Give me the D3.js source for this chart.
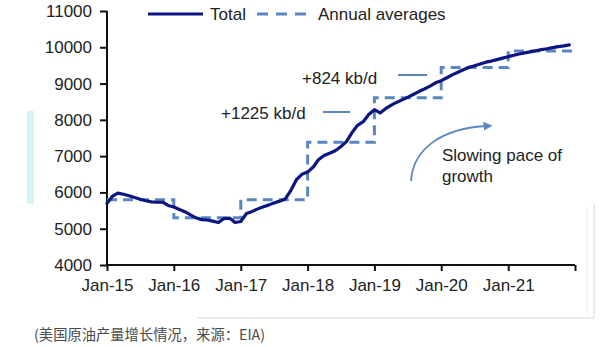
<!DOCTYPE html>
<html><head><meta charset="utf-8">
<script src="https://cdn.jsdelivr.net/npm/d3@7"></script>
<style>
html,body{margin:0;padding:0;background:#fff;}
svg{display:block;font-family:"Liberation Sans",Arial,Helvetica,sans-serif;}
</style></head>
<body><svg id="c" width="600" height="347"></svg>
<script>
// Monthly total production, Jan-2015 .. Dec-2021 (kb/d)
const totalValues = [
  5700,5900,5980,5950,5910,5860,5810,5770,5740,5730,5730,5640,
  5600,5530,5470,5380,5300,5250,5240,5210,5170,5280,5290,5170,
  5200,5420,5470,5540,5600,5650,5710,5760,5820,6050,6350,6500,
  6560,6700,6900,7020,7080,7150,7260,7400,7650,7850,7950,8150,
  8280,8190,8300,8400,8480,8550,8620,8700,8780,8850,8930,9020,
  9080,9160,9240,9310,9380,9450,9490,9540,9590,9620,9660,9700,
  9740,9780,9815,9845,9875,9905,9935,9960,9990,10020,10040,10065
];
const years = [2015,2016,2017,2018,2019,2020,2021];
const annualAverages = [5800,5300,5800,7380,8610,9440,9900];
const yTicks = [4000,5000,6000,7000,8000,9000,10000,11000];
const xTickLabels = ["Jan-15","Jan-16","Jan-17","Jan-18","Jan-19","Jan-20","Jan-21",""];
const legendLabels = ["Total","Annual averages"];
const annotations = [
  {text:"+824 kb/d", value:9440, year:2020},
  {text:"+1225 kb/d", value:8610, year:2019}
];

const svg = d3.select("#c");
const x = d3.scaleTime().domain([new Date(2015,0,1), new Date(2022,0,1)]).range([107,575]);
const y = d3.scaleLinear().domain([4000,11000]).range([265,11]);

const navy = "#0d1580";
const blue = "#5b87c0";

// decorative artifacts from the screenshot
svg.append("rect").attr("x",27).attr("y",111).attr("width",7).attr("height",93).attr("fill","#d3f3f7");
svg.append("path").attr("d","M197,318H594V203").attr("fill","none").attr("stroke","#e6e6e6").attr("stroke-width",1.5);
svg.append("path").attr("d","M587,207V314").attr("fill","none").attr("stroke","#efefef").attr("stroke-width",1.5);

// axes
const yAxis = d3.axisLeft(y).tickValues(yTicks).tickSize(7).tickPadding(8).tickFormat(d3.format("d"));
const gy = svg.append("g").attr("transform","translate(107,0)").call(yAxis);
const xTickDates = d3.range(2015,2023).map(yr=>new Date(yr,0,1));
const xAxis = d3.axisBottom(x).tickValues(xTickDates).tickSize(6).tickPadding(8)
  .tickFormat((d,i)=>xTickLabels[i]);
const gx = svg.append("g").attr("transform","translate(0,265)").call(xAxis);
[gx,gy].forEach(g=>{
  g.select(".domain").attr("stroke","#111").attr("stroke-width",2);
  g.selectAll(".tick line").attr("stroke","#111").attr("stroke-width",2);
  g.selectAll(".tick text").attr("font-size",17).attr("fill","#222")
    .attr("font-family","'Liberation Sans',Arial,sans-serif");
});
gy.select(".domain").attr("d","M0,11V265");
gx.select(".domain").attr("d","M107,0H575");

// annual averages step line
const stepData = years.map((yr,i)=>({d:new Date(yr,0,1), v:annualAverages[i]}));
stepData.push({d:new Date(2021,11,20), v:annualAverages[annualAverages.length-1]});
const stepLine = d3.line().x(p=>x(p.d)).y(p=>y(p.v)).curve(d3.curveStepAfter);
svg.append("path").datum(stepData).attr("d",stepLine)
  .attr("fill","none").attr("stroke",blue).attr("stroke-width",3).attr("stroke-dasharray","10,6");

// total line
const totData = totalValues.map((v,i)=>({d:new Date(2015,i,1), v}));
const line = d3.line().x(p=>x(p.d)).y(p=>y(p.v));
svg.append("path").datum(totData).attr("d",line)
  .attr("fill","none").attr("stroke",navy).attr("stroke-width",3.2)
  .attr("stroke-linejoin","round").attr("stroke-linecap","round");

// legend
svg.append("line").attr("x1",148).attr("x2",203).attr("y1",14).attr("y2",14).attr("stroke",navy).attr("stroke-width",3.2);
svg.append("text").attr("x",210).attr("y",20).attr("font-size",17).attr("fill","#222").text(legendLabels[0]);
svg.append("line").attr("x1",257).attr("x2",307).attr("y1",14).attr("y2",14).attr("stroke",blue).attr("stroke-width",3).attr("stroke-dasharray","11,8");
svg.append("text").attr("x",318).attr("y",20).attr("font-size",17).attr("fill","#222").text(legendLabels[1]);

// annotations
const ann = [
  {t:annotations[0].text, tx:302, ty:84, lx1:398, lx2:427, ly:75},
  {t:annotations[1].text, tx:221, ty:119, lx1:323, lx2:350, ly:112}
];
ann.forEach(a=>{
  svg.append("text").attr("x",a.tx).attr("y",a.ty).attr("font-size",17).attr("fill","#222").text(a.t);
  svg.append("line").attr("x1",a.lx1).attr("x2",a.lx2).attr("y1",a.ly).attr("y2",a.ly).attr("stroke",blue).attr("stroke-width",2);
});

// curved arrow
svg.append("defs").append("marker").attr("id","ah").attr("viewBox","0 0 10 10").attr("refX",5).attr("refY",5)
  .attr("markerWidth",5).attr("markerHeight",5).attr("orient","auto")
  .append("path").attr("d","M0,0L10,5L0,10z").attr("fill",blue);
svg.append("path").attr("d","M411,181C413,150 440,128 488,126")
  .attr("fill","none").attr("stroke",blue).attr("stroke-width",1.8).attr("marker-end","url(#ah)");
svg.append("text").attr("x",442).attr("y",161).attr("font-size",17).attr("fill","#222").text("Slowing pace of");
svg.append("text").attr("x",442).attr("y",182).attr("font-size",17).attr("fill","#222").text("growth");

// footer
svg.append("text").attr("x",34).attr("y",340).attr("font-size",14.3).attr("fill","#4a4a4a")
  .attr("font-family","'Noto Sans CJK SC',sans-serif").text("(美国原油产量增长情况，来源：EIA)");
</script></body></html>
